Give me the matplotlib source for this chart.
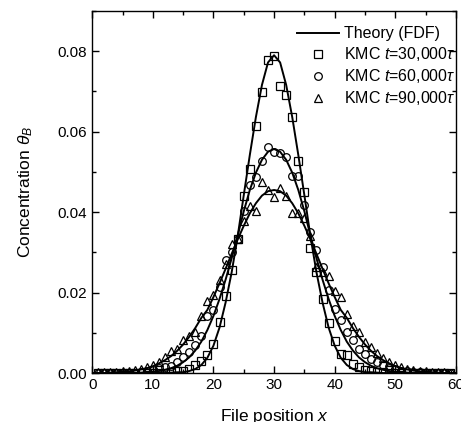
import matplotlib
matplotlib.use("Agg")
import matplotlib.pyplot as plt
import numpy as np

plt.rcParams['font.family'] = ['Liberation Sans', 'DejaVu Sans']
plt.rcParams['mathtext.fontset'] = 'custom'
plt.rcParams['mathtext.rm'] = 'Liberation Sans'
plt.rcParams['mathtext.it'] = 'Liberation Sans:italic'

# theory curves (FDF), x = 0..60
x_theory = list(range(0, 61))
theory_30k = [0.0, 0.0, 0.0, 0.0, 0.0, 0.0, 0.0, 0.0, 0.0, 0.0,
              0.0, 0.0, 0.0, 0.0001, 0.0002, 0.0002, 0.0005, 0.0010, 0.0020, 0.0038,
              0.0068, 0.0113, 0.0175, 0.0250, 0.0340, 0.0442, 0.0542, 0.0636, 0.0716, 0.0772,
              0.0790,
              0.0772, 0.0716, 0.0636, 0.0542, 0.0442, 0.0340, 0.0250, 0.0175, 0.0113, 0.0068,
              0.0038, 0.0020, 0.0010, 0.0005, 0.0002, 0.0002, 0.0001, 0.0, 0.0, 0.0,
              0.0, 0.0, 0.0, 0.0, 0.0, 0.0, 0.0, 0.0, 0.0, 0.0]
theory_60k = [0.0, 0.0, 0.0, 0.0, 0.0, 0.0, 0.0, 0.0, 0.0001, 0.0002,
              0.0003, 0.0005, 0.0008, 0.0012, 0.0018, 0.0027, 0.0039, 0.0056, 0.0078, 0.0107,
              0.0142, 0.0184, 0.0232, 0.0285, 0.0342, 0.0402, 0.0455, 0.0498, 0.0530, 0.0550,
              0.0557,
              0.0550, 0.0530, 0.0498, 0.0455, 0.0402, 0.0342, 0.0285, 0.0232, 0.0184, 0.0142,
              0.0107, 0.0078, 0.0056, 0.0039, 0.0027, 0.0018, 0.0012, 0.0008, 0.0005, 0.0003,
              0.0002, 0.0001, 0.0, 0.0, 0.0, 0.0, 0.0, 0.0, 0.0, 0.0]
theory_90k = [0.0, 0.0, 0.0, 0.0001, 0.0002, 0.0003, 0.0004, 0.0006, 0.0009, 0.0012,
              0.0017, 0.0024, 0.0032, 0.0042, 0.0055, 0.0071, 0.0090, 0.0112, 0.0137, 0.0157,
              0.0189, 0.0223, 0.0259, 0.0296, 0.0332, 0.0366, 0.0397, 0.0422, 0.0441, 0.0452,
              0.0455,
              0.0452, 0.0441, 0.0422, 0.0397, 0.0366, 0.0332, 0.0296, 0.0259, 0.0223, 0.0189,
              0.0157, 0.0137, 0.0112, 0.0090, 0.0071, 0.0055, 0.0042, 0.0032, 0.0024, 0.0017,
              0.0012, 0.0009, 0.0006, 0.0004, 0.0003, 0.0002, 0.0001, 0.0, 0.0, 0.0]

# KMC simulation, x = 1..59
x_kmc = list(range(1, 60))
kmc_30k = [0.0, 0.0, 0.0, 0.0, 0.0, 0.0, 0.0, 0.0, 0.0, 0.0,
           0.0, 0.0001, 0.0002, 0.0004, 0.0006, 0.0011, 0.0019, 0.0031, 0.0046, 0.0073,
           0.0128, 0.0191, 0.0255, 0.0334, 0.0440, 0.0508, 0.0614, 0.0698, 0.0777, 0.0789,
           0.0713, 0.0690, 0.0636, 0.0526, 0.0450, 0.0310, 0.0251, 0.0183, 0.0124, 0.0080,
           0.0048, 0.0044, 0.0023, 0.0015, 0.0007, 0.0004, 0.0003, 0.0002, 0.0001, 0.0,
           0.0, 0.0, 0.0, 0.0, 0.0, 0.0, 0.0, 0.0, 0.0]
kmc_60k = [0.0, 0.0, 0.0, 0.0, 0.0, 0.0001, 0.0001, 0.0003, 0.0005, 0.0008,
           0.0012, 0.0016, 0.0017, 0.0027, 0.0040, 0.0052, 0.0070, 0.0091, 0.0143, 0.0156,
           0.0214, 0.0280, 0.0300, 0.0334, 0.0404, 0.0467, 0.0487, 0.0528, 0.0561, 0.0549,
           0.0547, 0.0537, 0.0489, 0.0491, 0.0418, 0.0350, 0.0306, 0.0263, 0.0207, 0.0160,
           0.0132, 0.0102, 0.0083, 0.0060, 0.0048, 0.0035, 0.0027, 0.0019, 0.0013, 0.0009,
           0.0006, 0.0004, 0.0003, 0.0002, 0.0001, 0.0001, 0.0, 0.0, 0.0]
kmc_90k = [0.0002, 0.0002, 0.0003, 0.0003, 0.0004, 0.0005, 0.0007, 0.0010, 0.0015, 0.0021,
           0.0028, 0.0040, 0.0056, 0.0060, 0.0081, 0.0092, 0.0102, 0.0143, 0.0180, 0.0195,
           0.0232, 0.0270, 0.0321, 0.0334, 0.0378, 0.0415, 0.0404, 0.0476, 0.0455, 0.0437,
           0.0460, 0.0440, 0.0398, 0.0398, 0.0385, 0.0340, 0.0263, 0.0250, 0.0240, 0.0205,
           0.0190, 0.0147, 0.0118, 0.0102, 0.0077, 0.0065, 0.0050, 0.0037, 0.0028, 0.0020,
           0.0015, 0.0011, 0.0008, 0.0006, 0.0004, 0.0003, 0.0002, 0.0002, 0.0001]

fig = plt.figure(figsize=(4.61, 4.22), dpi=100)
ax = fig.add_axes([0.2, 0.116, 0.789, 0.858])

ax.plot(x_theory, theory_30k, '-', color='black', lw=1.4, label='Theory (FDF)')
ax.plot(x_theory, theory_60k, '-', color='black', lw=1.4)
ax.plot(x_theory, theory_90k, '-', color='black', lw=1.4)

mk = dict(linestyle='none', mfc='none', mec='black', mew=0.9)
ax.plot(x_kmc, kmc_30k, marker='s', ms=5.5, label='KMC $t$=30,000$\\tau$', **mk)
ax.plot(x_kmc, kmc_60k, marker='o', ms=5.5, label='KMC $t$=60,000$\\tau$', **mk)
ax.plot(x_kmc, kmc_90k, marker='^', ms=6, label='KMC $t$=90,000$\\tau$', **mk)

ax.set_xlim(0, 60)
ax.set_ylim(0, 0.09)
ax.set_xticks([0, 10, 20, 30, 40, 50, 60])
ax.set_xticks([5, 15, 25, 35, 45, 55], minor=True)
ax.set_yticks([0.0, 0.02, 0.04, 0.06, 0.08])
ax.set_yticks([0.01, 0.03, 0.05, 0.07, 0.09], minor=True)
ax.set_yticklabels(['0.00', '0.02', '0.04', '0.06', '0.08'])
ax.tick_params(which='both', direction='in', top=True, right=True, labelsize=11, width=1)
ax.tick_params(which='major', length=5)
ax.tick_params(which='minor', length=3)
for s in ax.spines.values():
    s.set_linewidth(1.0)

ax.set_xlabel('File position $x$', fontsize=12.5, labelpad=11)
ax.set_ylabel('Concentration $\\theta_B$', fontsize=12.5, labelpad=16)

ax.legend(loc='upper right', bbox_to_anchor=(1.024, 0.984), frameon=False, fontsize=11.5,
          handlelength=2.6, handletextpad=0.3, labelspacing=0.25, borderaxespad=0.2)

fig.savefig('out.png', dpi=100)
